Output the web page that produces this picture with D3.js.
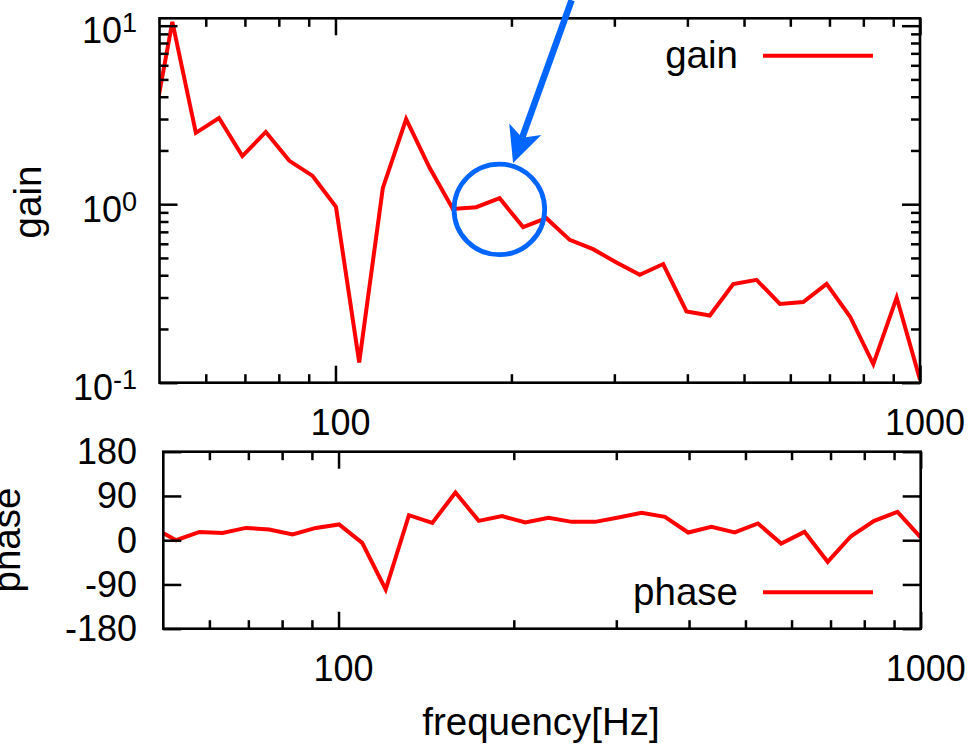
<!doctype html>
<html>
<head>
<meta charset="utf-8">
<style>
body { margin: 0; background: #fff; }
text { font-family: "Liberation Sans", Arial, Helvetica, sans-serif; fill: #000; }
.tick line { stroke: #000; stroke-width: 2.5; }
</style>
<script src="https://d3js.org/d3.v7.min.js"></script>
</head>
<body>
<svg width="969" height="751"></svg>
<script>
// frequency sweep [Hz]
var freq = [48.0, 52.6, 57.7, 63.2, 69.3, 76.0, 83.4, 91.4, 100.2, 109.8, 120.5, 132.1,
	144.9, 158.8, 174.1, 190.9, 209.4, 229.5, 251.6, 275.9, 302.5, 331.6, 363.6, 398.6,
	437.0, 479.2, 525.3, 575.9, 631.4, 692.2, 758.9, 832.0, 912.2, 1000];
var gain = [2.05, 10.5, 2.51, 3.04, 1.86, 2.54, 1.75, 1.44, 0.966, 0.13, 1.23, 3.0,
	1.60, 0.941, 0.962, 1.08, 0.744, 0.835, 0.631, 0.560, 0.471, 0.402, 0.462, 0.251,
	0.238, 0.357, 0.377, 0.276, 0.283, 0.358, 0.235, 0.127, 0.300, 0.104];
var phase = [25.8, 0, 16.9, 14.9, 25, 21.8, 11.6, 25, 32, -5.5, -100, 50.9,
	35.3, 97, 39.3, 48.9, 36, 45.4, 37.3, 37.3, 46.2, 55.6, 47.5, 15.7,
	27.1, 15.7, 34, -6.8, 16.9, -44, 8.1, 39.3, 57.6, 5.5];

var xMajor = [100, 1000];
var xMinor = [60, 70, 80, 90, 200, 300, 400, 500, 600, 700, 800, 900];
var gainMajor = [0.1, 1, 10];
var gainMinor = [0.2, 0.3, 0.4, 0.5, 0.6, 0.7, 0.8, 0.9, 2, 3, 4, 5, 6, 7, 8, 9];
var phaseTicks = [-180, -90, 0, 90, 180];

// annotation: circle around the bump and the arrow pointing at it
var markFreq = 190.7, markGain = 0.935;
var arrowFrom = [253.5, 13.9], arrowTo = [201.3, 1.70];

var svg = d3.select("svg");
svg.append("rect").attr("width", 969).attr("height", 751).attr("fill", "#fff");

var blue = "#0066ff";
var wordSize = 38.5, numSize = 36;

// ---- gain panel
var g1 = svg.append("g").attr("transform", "translate(159.5,18.3)");
var w1 = 760.5, h1 = 364.4;
var x1 = d3.scaleLog().domain([50, 1000]).range([0, w1]);
var y1 = d3.scaleLog().domain([0.1, 11]).range([h1, 0]);

// ---- phase panel
var g2 = svg.append("g").attr("transform", "translate(163.3,451.7)");
var w2 = 757.4, h2 = 177;
var x2 = d3.scaleLog().domain([50, 1000]).range([0, w2]);
var y2 = d3.scaleLinear().domain([-180, 180]).range([h2, 0]);

function ticks(g, w, h, x, y, xMaj, xMin, yMaj, yMin) {
	var defs = [
		[d3.axisBottom(x), xMaj, 17, "translate(0," + h + ")"],
		[d3.axisBottom(x), xMin, 8.5, "translate(0," + h + ")"],
		[d3.axisTop(x), xMaj, 17, null],
		[d3.axisTop(x), xMin, 8.5, null],
		[d3.axisLeft(y), yMaj, 18, null],
		[d3.axisLeft(y), yMin, 9, null],
		[d3.axisRight(y), yMaj, 18, "translate(" + w + ",0)"],
		[d3.axisRight(y), yMin, 9, "translate(" + w + ",0)"]
	];
	defs.forEach(function(d) {
		if (!d[1].length) return;
		var a = g.append("g").attr("transform", d[3])
			.call(d[0].tickValues(d[1]).tickSize(-d[2]).tickSizeOuter(0).tickFormat(""));
		a.select(".domain").remove();
	});
	g.append("rect").attr("width", w).attr("height", h)
		.attr("fill", "none").attr("stroke", "#000").attr("stroke-width", 2.6);
}

function clip(id, w, h) {
	svg.append("clipPath").attr("id", id).append("rect").attr("width", w).attr("height", h);
}
clip("c1", w1, h1);
clip("c2", w2, h2);

// gain line
var gainLine = d3.line().x(function(d, i) { return x1(freq[i]); }).y(function(d) { return y1(d); });
g1.append("path").datum(gain).attr("clip-path", "url(#c1)")
	.attr("d", gainLine).attr("fill", "none").attr("stroke", "#ff0000")
	.attr("stroke-width", 4).attr("stroke-linejoin", "miter");

ticks(g1, w1, h1, x1, y1, xMajor, xMinor, gainMajor, gainMinor);

// phase line
var phaseLine = d3.line().x(function(d, i) { return x2(freq[i]); }).y(function(d) { return y2(d); });
g2.append("path").datum(phase).attr("clip-path", "url(#c2)")
	.attr("d", phaseLine).attr("fill", "none").attr("stroke", "#ff0000")
	.attr("stroke-width", 4).attr("stroke-linejoin", "miter");

ticks(g2, w2, h2, x2, y2, xMajor, xMinor, phaseTicks, []);

// x tick labels
[[g1, x1, h1], [g2, x2, h2]].forEach(function(p) {
	p[0].selectAll(".xlab").data(xMajor).enter().append("text")
		.attr("x", function(d) { return p[1](d) + 5; })
		.attr("y", p[2] + 52)
		.attr("text-anchor", "middle").attr("font-size", numSize)
		.text(function(d) { return d; });
});

// gain tick labels 10^n
var gl = g1.selectAll(".ylab").data(gainMajor).enter().append("text")
	.attr("x", -22.5)
	.attr("y", function(d) { return y1(d) + 17.5; })
	.attr("text-anchor", "end").attr("font-size", numSize);
gl.append("tspan").text("10");
gl.append("tspan").attr("font-size", 27).attr("dy", -11)
	.text(function(d) { return Math.round(Math.log10(d)); });

// phase tick labels
g2.selectAll(".ylab").data(phaseTicks).enter().append("text")
	.attr("x", -26.3)
	.attr("y", function(d) { return y2(d) + 12.5; })
	.attr("text-anchor", "end").attr("font-size", numSize)
	.text(function(d) { return d; });

// axis titles
svg.append("text").attr("transform", "translate(41,202) rotate(-90)")
	.attr("text-anchor", "middle").attr("font-size", wordSize).text("gain");
svg.append("text").attr("transform", "translate(20,540) rotate(-90)")
	.attr("text-anchor", "middle").attr("font-size", wordSize).text("phase");
svg.append("text").attr("x", 541).attr("y", 735)
	.attr("text-anchor", "middle").attr("font-size", wordSize).text("frequency[Hz]");

// legends
function legend(label, ly) {
	svg.append("text").attr("x", 738).attr("y", ly + 12.5)
		.attr("text-anchor", "end").attr("font-size", wordSize).text(label);
	svg.append("line").attr("x1", 763).attr("x2", 873).attr("y1", ly).attr("y2", ly)
		.attr("stroke", "#ff0000").attr("stroke-width", 4);
}
legend("gain", 55.7);
legend("phase", 592.3);

// annotation circle
g1.append("circle").attr("cx", x1(markFreq)).attr("cy", y1(markGain)).attr("r", 45.3)
	.attr("fill", "none").attr("stroke", blue).attr("stroke-width", 4.8);

// arrow
var ax0 = x1(arrowFrom[0]), ay0 = y1(arrowFrom[1]);
var ax1 = x1(arrowTo[0]), ay1 = y1(arrowTo[1]);
var dx = ax1 - ax0, dy = ay1 - ay0, len = Math.sqrt(dx * dx + dy * dy);
var ux = dx / len, uy = dy / len, px = -uy, py = ux;
var headLen = 36, headHalf = 17, notch = 27;
g1.append("line").attr("x1", ax0).attr("y1", ay0)
	.attr("x2", ax1 - ux * notch).attr("y2", ay1 - uy * notch)
	.attr("stroke", blue).attr("stroke-width", 6.5);
var bx = ax1 - ux * headLen, by = ay1 - uy * headLen;
g1.append("path").attr("fill", blue).attr("d",
	"M" + ax1 + "," + ay1 +
	"L" + (bx + px * headHalf) + "," + (by + py * headHalf) +
	"L" + (ax1 - ux * notch) + "," + (ay1 - uy * notch) +
	"L" + (bx - px * headHalf) + "," + (by - py * headHalf) + "Z");
</script>
</body>
</html>
